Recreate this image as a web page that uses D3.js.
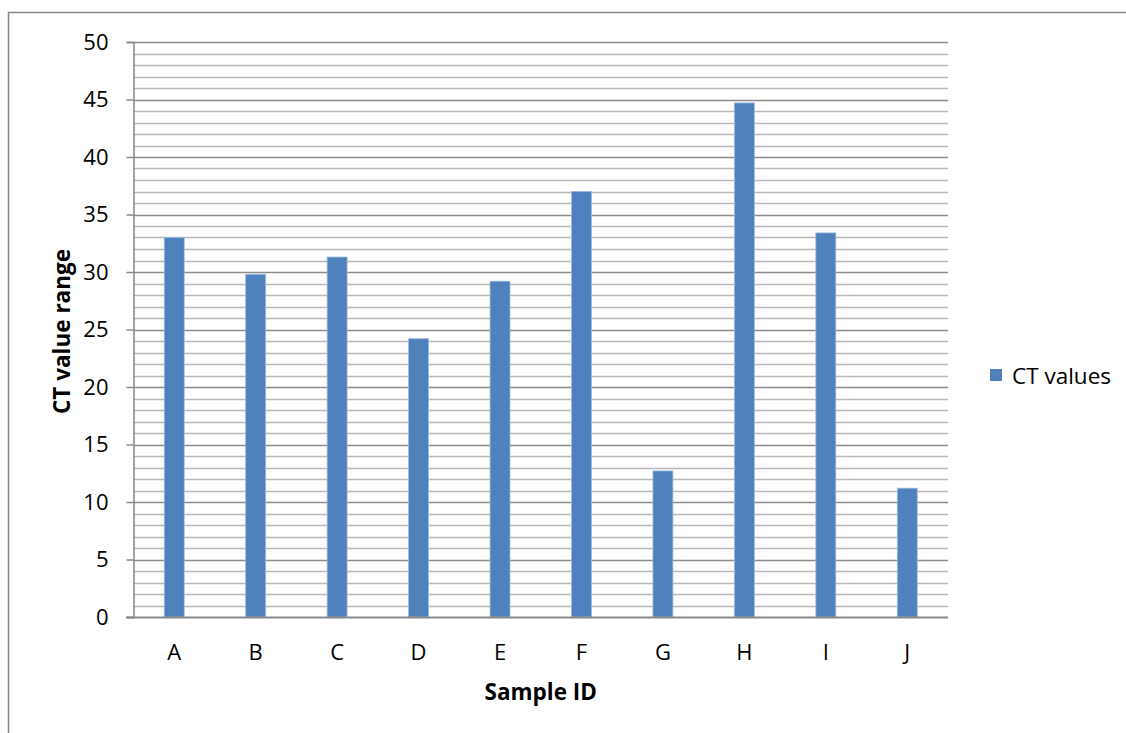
<!DOCTYPE html>
<html><head><meta charset="utf-8">
<script src="https://cdn.jsdelivr.net/npm/d3@7"></script>
<style>body{margin:0;background:#fff}svg{display:block;font-family:"Open Sans","Liberation Sans",sans-serif}</style>
</head><body>
<script>
const categories = ["A","B","C","D","E","F","G","H","I","J"];
const ctValues = [33.0, 29.8, 31.3, 24.2, 29.2, 37.0, 12.7, 44.7, 33.4, 11.2];
const yTicks = [0,5,10,15,20,25,30,35,40,45,50];
const seriesName = "CT values";
const xTitle = "Sample ID";
const yTitle = "CT value range";

const W = 1126, H = 733;
const m = {left:133.5, right:948, top:42, bottom:617};
const svg = d3.select("body").append("svg").attr("width",W).attr("height",H);

// outer frame
svg.append("path").attr("d",`M8.5,${H} L8.5,12.5 L${W},12.5`).attr("fill","none").attr("stroke","#888").attr("stroke-width",1.5);

const x = d3.scaleBand().domain(categories).range([m.left,m.right]).paddingInner(0.755).paddingOuter(0.3775);
const y = d3.scaleLinear().domain([0,50]).range([m.bottom,m.top]);

// minor gridlines
const minor = d3.range(1,50).filter(v=>v%5!==0);
svg.append("g").selectAll("line").data(minor).join("line")
  .attr("x1",m.left).attr("x2",m.right).attr("y1",d=>Math.round(y(d))+0.5).attr("y2",d=>Math.round(y(d))+0.5)
  .attr("stroke","#b8b8b8").attr("stroke-width",1.5);
// major gridlines
svg.append("g").selectAll("line").data(yTicks.filter(v=>v>0)).join("line")
  .attr("x1",m.left).attr("x2",m.right).attr("y1",d=>Math.round(y(d))+0.5).attr("y2",d=>Math.round(y(d))+0.5)
  .attr("stroke","#8c8c8c").attr("stroke-width",1.5);

// y axis
const yAxis = svg.append("g").attr("transform",`translate(${m.left},0)`)
  .call(d3.axisLeft(y).tickValues(yTicks).tickSize(7).tickPadding(18));
yAxis.select(".domain").attr("stroke","#888").attr("stroke-width",1.5);
yAxis.selectAll(".tick line").attr("stroke","#888").attr("stroke-width",1.5);
yAxis.selectAll(".tick text").attr("font-size",22).attr("fill","#000").attr("font-family","Open Sans");

// bars
svg.append("g").selectAll("rect").data(categories).join("rect")
  .attr("x",d=>x(d)).attr("width",x.bandwidth())
  .attr("y",(d,i)=>y(ctValues[i])).attr("height",(d,i)=>y(0)-y(ctValues[i]))
  .attr("fill","#4f81bd").attr("stroke","#9bbbe0").attr("stroke-width",0.8);

// x axis
const xAxis = svg.append("g").attr("transform",`translate(0,${m.bottom})`)
  .call(d3.axisBottom(x).tickSize(0).tickPadding(27));
xAxis.select(".domain").attr("stroke","#888").attr("stroke-width",2).attr("d",`M${m.left-7},0.5H${m.right}`);
xAxis.selectAll(".tick text").attr("font-size",22).attr("fill","#000").attr("font-family","Open Sans");

// titles
svg.append("text").attr("x",(m.left+m.right)/2).attr("y",700).attr("text-anchor","middle")
  .attr("font-size",22.5).attr("font-weight","bold").text(xTitle);
svg.append("text").attr("transform",`translate(70,${(m.top+m.bottom)/2 + 2}) rotate(-90)`).attr("text-anchor","middle")
  .attr("font-size",22.5).attr("font-weight","bold").text(yTitle);

// legend
svg.append("rect").attr("x",990).attr("y",369).attr("width",12).attr("height",12).attr("fill","#4f81bd");
svg.append("text").attr("x",1012).attr("y",384).attr("font-size",22.5).attr("fill","#000").text(seriesName);
</script>
</body></html>
